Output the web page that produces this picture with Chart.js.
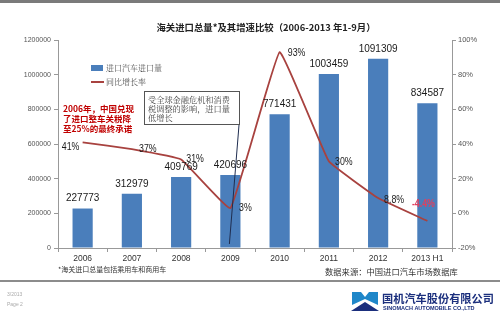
<!DOCTYPE html>
<html>
<head>
<meta charset="utf-8">
<script src="https://cdn.jsdelivr.net/npm/chart.js@4.4.0/dist/chart.umd.min.js"></script>
<style>
  html, body { margin: 0; padding: 0; background: #fff; }
  #slide { position: relative; width: 500px; height: 321px; overflow: hidden; background: #fff;
           font-family: Arial, "Liberation Sans", "Noto Sans CJK SC", sans-serif; }
  #chartBox { position: absolute; left: 0; top: 0; width: 500px; height: 321px; }
  .abs { position: absolute; white-space: nowrap; }
  #topRule { left: 0; top: 0; width: 500px; height: 3px; background: #7a7a7a; }
  #bottomRule { left: 0; top: 280px; width: 500px; height: 2px; background: #8c8c8c; }
  #title { left: 0; width: 532px; top: 20px; text-align: center; font-size: 9.4px; font-weight: bold; color: #222;
           font-family: "Noto Sans CJK SC", sans-serif; }
  .legendText { font-family: "Noto Serif CJK SC", "Noto Sans CJK SC", serif; font-size: 8px; color: #555; }
  #note { left: 63px; top: 103px; font-family: "Noto Sans CJK SC", sans-serif; font-weight: bold;
          font-size: 8.5px; line-height: 10px; color: #c00000; }
  #box { left: 144px; top: 91px; width: 88px; height: 28px; border: 1px solid #555; padding: 3px 3px 1px 3px;
         font-family: "Noto Serif CJK SC", "Noto Sans CJK SC", serif; font-size: 8.2px; line-height: 9.2px; color: #444;
         white-space: normal; background: #fff; }
  #foot1 { left: 58px; top: 264px; font-family: "Noto Sans CJK SC", sans-serif; font-size: 7px; color: #333; }
  #foot2 { left: 325px; top: 265px; font-family: "Noto Sans CJK SC", sans-serif; font-size: 8.3px; color: #333; }
  .page { left: 7px; font-size: 5px; color: #aaa; }
  #coName { left: 382px; top: 290px; font-family: "Noto Sans CJK SC", sans-serif; font-weight: bold; font-size: 11.2px;
            color: #1b2f7d; }
  #coEn { left: 383px; top: 305px; font-size: 6px; font-weight: bold; color: #1b2f7d; transform: scaleX(0.92);
          transform-origin: left top; }
</style>
</head>
<body>
<div id="slide">
  <div id="chartBox"><canvas id="importChart" width="500" height="321"></canvas></div>
  <div class="abs" id="topRule"></div>
  <div class="abs" id="title">海关进口总量*及其增速比较（2006-2013 年1-9月）</div>

  <!-- legend -->
  <div class="abs" style="left:91px;top:65px;width:12px;height:6px;background:#4a7ebb"></div>
  <div class="abs legendText" style="left:106px;top:62px">进口汽车进口量</div>
  <div class="abs" style="left:91px;top:81px;width:13px;height:1.5px;background:#a8423f"></div>
  <div class="abs legendText" style="left:106px;top:76px">同比增长率</div>

  <div class="abs" id="note">2006年，中国兑现<br>了进口整车关税降<br>至25%的最终承诺</div>
  <div class="abs" id="box">受全球金融危机和消费税调整的影响，进口量低增长</div>

  <div class="abs" id="foot1">*海关进口总量包括乘用车和商用车</div>
  <div class="abs" id="foot2">数据来源：中国进口汽车市场数据库</div>
  <div class="abs" id="bottomRule"></div>
  <div class="abs page" style="top:291px">3/2013</div>
  <div class="abs page" style="top:301px">Page 2</div>

  <!-- company logo -->
  <svg class="abs" style="left:350px;top:290px" width="30" height="22" viewBox="0 0 30 22">
    <path d="M2 2 L11 2 L15 7 L19 2 L28 2 L28 15 L15 9 L2 15 Z" fill="#1f87c9"/>
    <path d="M1 21 L15 12 L29 21 Z" fill="#1b2f7d"/>
  </svg>
  <div class="abs" id="coName">国机汽车股份有限公司</div>
  <div class="abs" id="coEn">SINOMACH AUTOMOBILE CO.,LTD</div>
</div>

<script>
// Imported vehicles per year and year-on-year growth (%)
const categories = ['2006', '2007', '2008', '2009', '2010', '2011', '2012', '2013 H1'];
const importVolume = [227773, 312979, 409769, 420696, 771431, 1003459, 1091309, 834587];
const growthRate = [41, 37, 31, 3, 93, 30, 8.8, -4.4];
const growthLabels = ['41%', '37%', '31%', '3%', '93%', '30%', '8.8%', '-4.4%'];

const BAR_BLUE = '#4a7ebb';
const LINE_RED = '#a8423f';

// label offsets for the growth line, relative to each point
const growthLabelOffset = [[-12, 5], [16, 0], [14, -1], [15, 0], [17, 1], [15, 1], [16, 2], [-4, -17]];

const labelPlugin = {
    id: 'valueLabels',
    afterDatasetsDraw(chart) {
        const ctx = chart.ctx;
        const bars = chart.getDatasetMeta(0).data;
        const points = chart.getDatasetMeta(1).data;

        // pointer from the note box down to the 2009 bar
        ctx.save();
        ctx.strokeStyle = '#1f2d4f';
        ctx.lineWidth = 1;
        ctx.beginPath();
        ctx.moveTo(239, 125);
        ctx.lineTo(bars[3].x - 1, chart.chartArea.bottom - 4);
        ctx.stroke();
        ctx.restore();

        ctx.save();
        ctx.textAlign = 'center';
        ctx.textBaseline = 'middle';

        // bar values
        ctx.fillStyle = '#1a1a1a';
        ctx.font = '10px Arial, "Liberation Sans"';
        bars.forEach((bar, i) => {
            ctx.fillText(String(importVolume[i]), bar.x, bar.y - 10);
        });

        // growth values
        points.forEach((pt, i) => {
            const off = growthLabelOffset[i];
            const last = i === points.length - 1;
            ctx.save();
            ctx.translate(pt.x + off[0], pt.y + off[1]);
            ctx.scale(0.8, 1);
            ctx.fillStyle = last ? '#e0405f' : '#1a1a1a';
            ctx.font = (last ? 'bold ' : '') + '11px Arial, "Liberation Sans"';
            ctx.fillText(growthLabels[i], 0, 0);
            ctx.restore();
        });
        ctx.restore();
    }
};

new Chart(document.getElementById('importChart'), {
    data: {
        labels: categories,
        datasets: [
            {
                type: 'bar',
                label: '进口汽车进口量',
                data: importVolume,
                backgroundColor: BAR_BLUE,
                categoryPercentage: 1,
                barPercentage: 0.41,
                yAxisID: 'y',
                order: 2
            },
            {
                type: 'line',
                label: '同比增长率',
                data: growthRate,
                borderColor: LINE_RED,
                borderWidth: 1.8,
                pointRadius: 0,
                tension: 0.08,
                yAxisID: 'y1',
                order: 1
            }
        ]
    },
    options: {
        responsive: false,
        animation: false,
        layout: { padding: { top: 40, left: 0, right: 0, bottom: 0 } },
        plugins: {
            legend: { display: false },
            title: { display: false },
            tooltip: { enabled: false }
        },
        scales: {
            x: {
                offset: true,
                grid: { drawOnChartArea: false, offset: true, tickLength: 4, color: '#999' },
                border: { color: '#999' },
                ticks: { color: '#333', font: { size: 8.5, family: 'Arial' }, padding: 2, maxRotation: 0 },
                afterFit(scale) { scale.height = 73; }
            },
            y: {
                position: 'left',
                min: 0,
                max: 1200000,
                grid: { drawOnChartArea: false, tickLength: 4, color: '#999' },
                border: { color: '#999' },
                ticks: {
                    stepSize: 200000,
                    color: '#555',
                    font: { size: 7, family: 'Arial' },
                    padding: 3,
                    callback: v => String(v)
                },
                afterFit(scale) { scale.width = 58; }
            },
            y1: {
                position: 'right',
                min: -20,
                max: 100,
                grid: { drawOnChartArea: false, tickLength: 4, color: '#999' },
                border: { color: '#999' },
                ticks: {
                    stepSize: 20,
                    color: '#555',
                    font: { size: 7.5, family: 'Arial' },
                    padding: 2,
                    callback: v => v + '%'
                },
                afterFit(scale) { scale.width = 48; }
            }
        }
    },
    plugins: [labelPlugin]
});
</script>
</body>
</html>
